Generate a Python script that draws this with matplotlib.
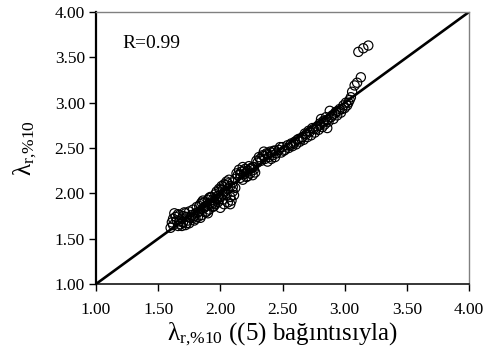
import numpy as np
import matplotlib
matplotlib.use("Agg")
import matplotlib.pyplot as plt

plt.rcParams['font.family'] = ['Liberation Serif', 'DejaVu Serif']
plt.rcParams['mathtext.fontset'] = 'custom'
plt.rcParams['mathtext.rm'] = 'Liberation Serif'
plt.rcParams['mathtext.it'] = 'Liberation Serif:italic'

# values
x_vals = [1.60, 1.62, 1.63, 1.65, 1.66, 1.67, 1.68, 1.69, 1.70, 1.71, 1.72, 1.73, 1.74, 1.75, 1.61, 1.64, 1.67, 1.70, 1.73, 1.76,
          1.77, 1.78, 1.79, 1.80, 1.81, 1.82, 1.83, 1.84, 1.85, 1.86, 1.87, 1.88, 1.89, 1.90, 1.91, 1.92, 1.93, 1.94, 1.95, 1.96,
          1.78, 1.80, 1.83, 1.85, 1.87, 1.89, 1.91, 1.93, 1.95, 1.97,
          1.97, 1.98, 1.99, 2.00, 2.01, 2.02, 2.03, 2.04, 2.05, 2.06, 2.07, 2.08, 2.09, 2.10, 2.11, 2.12,
          2.00, 2.03, 2.06, 2.08, 2.10, 2.12, 1.99, 2.02, 2.05,
          2.14, 2.15, 2.16, 2.17, 2.18, 2.19, 2.20, 2.21, 2.22, 2.23, 2.24, 2.25, 2.26, 2.27, 2.28, 2.18, 2.22, 2.26,
          2.30, 2.31, 2.33, 2.34, 2.36, 2.37, 2.39, 2.40, 2.42, 2.43, 2.45, 2.35, 2.38, 2.41, 2.44,
          2.47, 2.49, 2.50, 2.52, 2.54, 2.55, 2.57, 2.58, 2.60, 2.61, 2.63, 2.64, 2.66, 2.67,
          2.69, 2.70, 2.72, 2.73, 2.75, 2.76, 2.78, 2.79, 2.80, 2.82, 2.83, 2.84, 2.85, 2.87, 2.88, 2.86, 2.81,
          2.90, 2.91, 2.93, 2.94, 2.96, 2.97, 2.99, 3.00, 3.01, 3.02, 3.04, 3.05,
          3.06, 3.08, 3.10, 3.13, 3.11, 3.15, 3.19,
          # extra points in the dense parts of the band
          1.62, 1.66, 1.69, 1.72, 1.75, 1.79, 1.82, 1.84, 1.86, 1.88, 1.90, 1.92, 1.94, 1.96, 1.98,
          2.00, 2.02, 2.04, 2.06, 2.08, 2.10, 2.13, 2.16, 2.19, 2.21, 2.24, 2.27, 2.29, 2.32, 2.35,
          2.38, 2.41, 2.44, 2.48, 2.51, 2.56, 2.59, 2.62, 2.65, 2.68, 2.71, 2.74, 2.77, 2.80, 2.83,
          2.86, 2.89, 2.92, 2.95, 2.98, 3.03]
y_vals = [1.62, 1.65, 1.78, 1.70, 1.64, 1.76, 1.66, 1.72, 1.68, 1.79, 1.65, 1.74, 1.70, 1.80, 1.68, 1.74, 1.69, 1.75, 1.67, 1.73,
          1.76, 1.82, 1.70, 1.78, 1.85, 1.74, 1.80, 1.88, 1.76, 1.83, 1.90, 1.79, 1.86, 1.93, 1.82, 1.89, 1.96, 1.85, 1.92, 1.99,
          1.73, 1.72, 1.86, 1.90, 1.84, 1.80, 1.95, 1.88, 1.86, 1.94,
          2.02, 1.90, 2.05, 1.96, 2.08, 1.99, 2.10, 2.02, 2.13, 2.05, 2.15, 2.08, 1.92, 2.12, 1.98, 2.16,
          1.84, 1.88, 1.90, 1.96, 2.02, 2.06, 1.95, 2.04, 1.98,
          2.20, 2.26, 2.17, 2.24, 2.29, 2.21, 2.27, 2.18, 2.25, 2.30, 2.22, 2.28, 2.20, 2.26, 2.23, 2.15, 2.19, 2.29,
          2.34, 2.40, 2.36, 2.42, 2.38, 2.44, 2.40, 2.46, 2.42, 2.47, 2.44, 2.46, 2.35, 2.38, 2.40,
          2.48, 2.45, 2.51, 2.48, 2.53, 2.50, 2.55, 2.52, 2.57, 2.54, 2.60, 2.57, 2.62, 2.59,
          2.65, 2.62, 2.68, 2.64, 2.71, 2.67, 2.74, 2.70, 2.77, 2.73, 2.80, 2.76, 2.84, 2.79, 2.91, 2.72, 2.82,
          2.86, 2.82, 2.90, 2.86, 2.93, 2.89, 2.97, 2.94, 3.00, 2.97, 3.03, 3.06,
          3.12, 3.19, 3.22, 3.28, 3.56, 3.60, 3.63,
          1.72, 1.77, 1.64, 1.78, 1.67, 1.75, 1.79, 1.73, 1.92, 1.86, 1.78, 1.96, 1.93, 1.88, 1.97,
          2.04, 1.93, 2.09, 2.11, 1.88, 2.07, 2.22, 2.21, 2.25, 2.23, 2.27, 2.29, 2.36, 2.38, 2.41,
          2.43, 2.45, 2.47, 2.51, 2.47, 2.53, 2.55, 2.59, 2.60, 2.66, 2.69, 2.72, 2.71, 2.75, 2.78,
          2.81, 2.84, 2.88, 2.91, 2.93, 3.00]
line_x = [1.0, 4.0]
line_y = [1.0, 4.0]
ticks = [1.00, 1.50, 2.00, 2.50, 3.00, 3.50, 4.00]
r_text = 'R=0.99'

fig = plt.figure(figsize=(4.87, 3.64), dpi=100)
ax = fig.add_axes([96/487, 1-284/364, 373/487, 272/364])

ax.plot(line_x, line_y, color='k', lw=1.9, zorder=2)
ax.scatter(x_vals, y_vals, s=44, facecolors='none', edgecolors='k', linewidths=0.85, zorder=3)

ax.set_xlim(1, 4)
ax.set_ylim(1, 4)
ax.set_xticks(ticks)
ax.set_yticks(ticks)
ax.set_xticklabels(['%.2f' % t for t in ticks])
ax.set_yticklabels(['%.2f' % t for t in ticks])
ax.tick_params(axis='both', direction='out', length=5, width=1, labelsize=12.5, color='k')
ax.tick_params(axis='x', pad=8)
ax.tick_params(axis='y', pad=3)

ax.spines['left'].set_linewidth(1.6)
ax.spines['left'].set_color('k')
ax.spines['bottom'].set_linewidth(1.1)
ax.spines['bottom'].set_color('k')
for s in ['top', 'right']:
    ax.spines[s].set_color('#808080')
    ax.spines[s].set_linewidth(1.0)

ax.text(1.21, 3.65, r_text, fontsize=14, va='center', ha='left')
ax.set_ylabel(r'λ$_{\mathrm{r{,}\%10}}$', fontsize=18, labelpad=11)
ax.set_xlabel(r'λ$_{\mathrm{r{,}\%10}}$ ((5) bağıntısıyla)', fontsize=18, labelpad=2)

fig.savefig('out.png', dpi=100)
